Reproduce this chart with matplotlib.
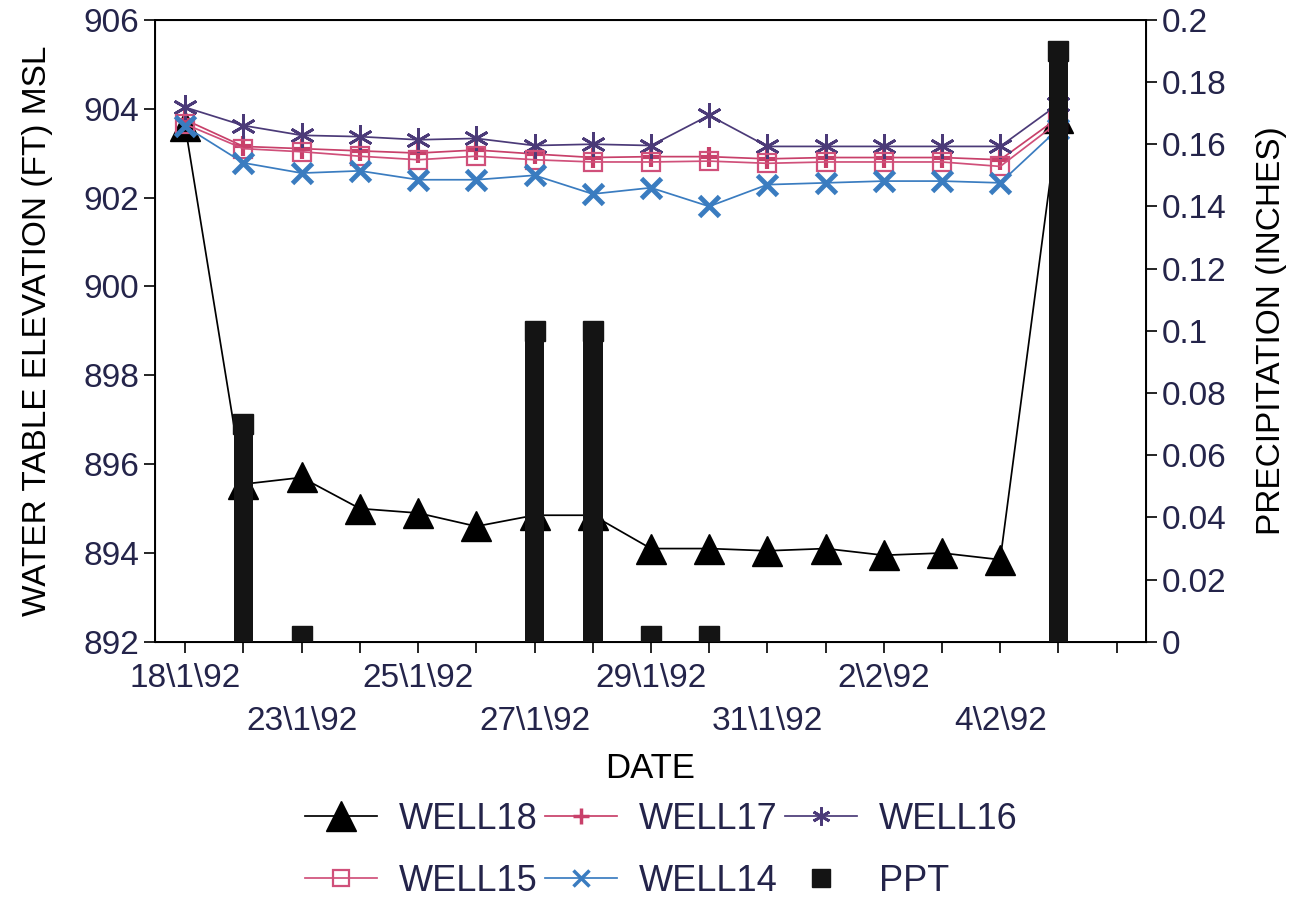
import matplotlib
matplotlib.use('Agg')
import matplotlib.pyplot as plt
import numpy as np
from matplotlib.lines import Line2D
from matplotlib.ticker import FuncFormatter

# dates (17 slots on the axis, data on the first 16)
dates = ['18\\1\\92', '22\\1\\92', '23\\1\\92', '24\\1\\92', '25\\1\\92', '26\\1\\92',
         '27\\1\\92', '28\\1\\92', '29\\1\\92', '30\\1\\92', '31\\1\\92', '1\\2\\92',
         '2\\2\\92', '3\\2\\92', '4\\2\\92', '5\\2\\92', '6\\2\\92']

well18 = [903.6, 895.55, 895.7, 895.0, 894.9, 894.6, 894.85, 894.85,
          894.1, 894.1, 894.05, 894.1, 893.95, 894.0, 893.85, 903.8]
well17 = [903.75, 903.15, 903.1, 903.05, 903.0, 903.07, 902.98, 902.9,
          902.92, 902.92, 902.87, 902.9, 902.9, 902.9, 902.85, 903.8]
well16 = [904.03, 903.62, 903.4, 903.37, 903.3, 903.33, 903.17, 903.2,
          903.17, 903.85, 903.15, 903.15, 903.15, 903.15, 903.15, 904.1]
well15 = [903.65, 903.1, 903.03, 902.93, 902.85, 902.93, 902.85, 902.8,
          902.8, 902.82, 902.77, 902.8, 902.8, 902.8, 902.7, 903.7]
well14 = [903.6, 902.78, 902.55, 902.6, 902.4, 902.4, 902.5, 902.08,
          902.22, 901.8, 902.29, 902.33, 902.37, 902.37, 902.33, 903.55]
ppt = [0.0, 0.07, 0.002, 0.0, 0.0, 0.0, 0.1, 0.1,
       0.002, 0.002, 0.0, 0.0, 0.0, 0.0, 0.0, 0.19]

TXT = '#24244a'
plt.rcParams['font.family'] = ['Liberation Sans', 'DejaVu Sans']
plt.rcParams['text.color'] = TXT

# name, colour, marker, size, edge width, filled
styles = [('WELL18', 'black', '^', 21, 1.0, True),
          ('WELL17', '#c8406a', '+', 14, 3.0, True),
          ('WELL16', '#4b3a78', (6, 2, 0), 18, 2.0, True),
          ('WELL15', '#d0507a', 's', 13, 1.6, False),
          ('WELL14', '#3a7cc0', 'x', 14, 3.5, True)]
legend_ms = {'WELL18': 21, 'WELL17': 11, 'WELL16': 13, 'WELL15': 12, 'WELL14': 12}

fig = plt.figure(figsize=(13.02, 8.99), dpi=100)
ax = fig.add_axes([0.119, 0.286, 0.761, 0.692])
x = np.arange(len(well18))

proxies = {}
for (name, col, mk, ms, mew, filled), ys in zip(styles, [well18, well17, well16, well15, well14]):
    mfc = col if filled else 'none'
    ax.plot(x, ys, color=col, lw=1.25, marker=mk, ms=ms, mew=mew, mfc=mfc)
    proxies[name] = Line2D([], [], color=col, lw=1.25, marker=mk, ms=legend_ms[name],
                           mew=min(mew, 2.5), mfc=mfc, label=name)

ax.set_ylim(892, 906)
ax.set_yticks(np.arange(892, 907, 2))
ax.set_xlim(-0.52, 16.5)
ax.set_xticks(np.arange(len(dates)))
ax.set_xticklabels([d if i % 2 == 0 and i < 15 else '' for i, d in enumerate(dates)])
for i, t in enumerate(ax.xaxis.get_major_ticks()):
    t.set_pad(38 if i % 4 == 2 else 7)
ax.tick_params(axis='both', labelsize=24, colors='black', labelcolor=TXT, length=8, width=1.2)
ax.set_xlabel('DATE', fontsize=25, labelpad=11)
ax.set_ylabel('WATER TABLE ELEVATION (FT) MSL', fontsize=24, labelpad=22)
for s in ax.spines.values():
    s.set_linewidth(1.4)

ax2 = ax.twinx()
p = np.array(ppt)
nz = p > 0
ax2.bar(x[nz], p[nz], width=0.34, color='#141414')
ax2.plot(x[nz], p[nz], ls='none', marker='s', ms=15, color='#141414')
ax2.set_ylim(0, 0.2)
ax2.set_yticks(np.arange(0, 0.201, 0.02))
ax2.yaxis.set_major_formatter(FuncFormatter(lambda v, pos: f'{v:.2f}'.rstrip('0').rstrip('.') if v else '0'))
ax2.tick_params(axis='y', labelsize=24, colors='black', labelcolor=TXT, length=8, width=1.2)
ax2.set_ylabel('PRECIPITATION (INCHES)', fontsize=24, labelpad=21)

pp = Line2D([], [], ls='none', marker='s', ms=13, color='#141414', label='PPT')
handles = [proxies['WELL18'], proxies['WELL15'], proxies['WELL17'],
           proxies['WELL14'], proxies['WELL16'], pp]
fig.legend(handles=handles, labels=[h.get_label() for h in handles], ncol=3,
           loc='center', bbox_to_anchor=(0.508, 0.054), frameon=False,
           fontsize=26, handlelength=2.0, columnspacing=0.2, handletextpad=0.6,
           labelspacing=0.75)

fig.savefig('out.png', dpi=100)
